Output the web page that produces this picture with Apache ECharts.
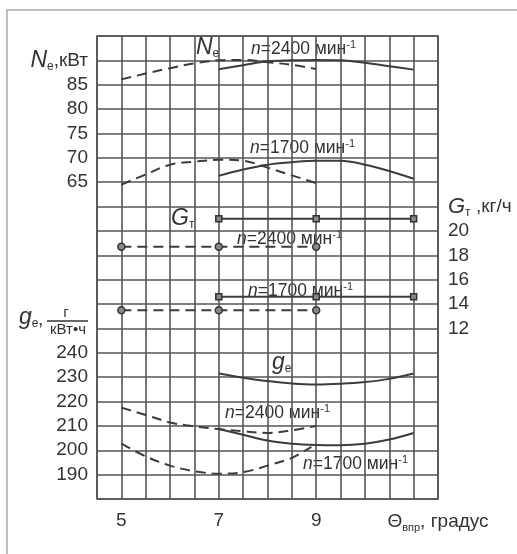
<!DOCTYPE html>
<html><head><meta charset="utf-8">
<script src="https://cdn.jsdelivr.net/npm/echarts@6/dist/echarts.min.js"></script>
<style>html,body{margin:0;padding:0;background:#fff;}#c{width:517px;height:554px;}</style>
</head><body><div id="c"></div>
<script>
// Angle of injection advance (degrees)
const xDashed = [5, 5.5, 6, 6.5, 7, 7.5, 8, 8.5, 9];
const xSolid = [7, 7.5, 8, 8.5, 9, 9.5, 10, 10.5, 11];
const xGe1700Dashed = [5, 5.5, 6, 6.5, 7, 7.5, 8, 8.5, 8.9];
// Ne, kW
const ne2400Dashed = [86.1, 87.3, 88.4, 89.4, 90.0, 90.1, 89.6, 89.1, 88.2];
const ne2400Solid = [88.2, 89.0, 89.8, 90.0, 90.1, 90.0, 89.5, 88.8, 88.1];
const ne1700Dashed = [64.5, 66.6, 68.6, 69.2, 69.6, 69.4, 68.0, 66.4, 64.8];
const ne1700Solid = [66.3, 67.6, 68.6, 69.1, 69.4, 69.4, 68.6, 67.3, 65.7];
// ge, g/kWh
const ge2400Dashed = [217.5, 214.5, 211.4, 209.8, 208.7, 207.8, 207.1, 208.2, 210.0];
const ge2400Solid = [231.5, 229.8, 228.4, 227.4, 227.0, 227.3, 228.0, 229.3, 231.5];
const ge1700Dashed = [202.7, 197.5, 193.7, 191.4, 190.4, 191.0, 193.7, 196.9, 201.4];
const ge1700Solid = [208.7, 206.4, 204.0, 202.7, 202.2, 202.1, 202.7, 204.4, 207.1];
// GT, kg/h
const xGDashed = [5, 7, 9];
const xGSolid = [7, 9, 11];
const gt2400Dashed = [18.7, 18.7, 18.7];
const gt2400Solid = [21.0, 21.0, 21.0];
const gt1700Dashed = [13.5, 13.5, 13.5];
const gt1700Solid = [14.6, 14.6, 14.6];
// tick labels
const xTicks = [5, 7, 9];
const neTicks = [65, 70, 75, 80, 85];
const geTicks = [190, 200, 210, 220, 230, 240];
const gtTicks = [12, 14, 16, 18, 20];

const FONT = '"Liberation Sans", Arial, sans-serif';
const TXT = '#333';
const LINE = '#3c3c3c';
const zip = (xs, ys) => xs.map((x, i) => [x, ys[i]]);

function curve(xs, ys, axis, dashed) {
  return {
    type: 'line', yAxisIndex: axis, data: zip(xs, ys), smooth: 0.35,
    showSymbol: false, symbol: 'none', silent: true,
    lineStyle: { color: LINE, width: 2, type: dashed ? [10, 6] : 'solid' }
  };
}
function gline(xs, ys, dashed) {
  return {
    type: 'line', yAxisIndex: 2, data: zip(xs, ys), silent: true,
    symbol: dashed ? 'circle' : 'rect', symbolSize: dashed ? 7 : 6, showSymbol: true,
    itemStyle: { color: '#888', borderColor: '#333', borderWidth: 1.5 },
    lineStyle: { color: LINE, width: 2, type: dashed ? [10, 6] : 'solid' }
  };
}

const nLabelRich = {
  i: { fontFamily: FONT, fontSize: 17.5, fontStyle: 'italic', fill: TXT, lineHeight: 20 },
  t: { fontFamily: FONT, fontSize: 17.5, fill: TXT, lineHeight: 20 },
  s: { fontFamily: FONT, fontSize: 11, fill: TXT, verticalAlign: 'top', lineHeight: 20 }
};
function nText(n, x, y) {
  return {
    type: 'text', x: x, y: y, silent: true,
    style: { text: '{i|n}{t|=' + n + ' мин}{s|-1}', rich: nLabelRich, fill: TXT,
      align: 'left', verticalAlign: 'middle' }
  };
}
function symText(main, sub, x, y) {
  return {
    type: 'text', x: x, y: y, silent: true,
    style: { text: '{m|' + main + '}{s|' + sub + '}', fill: TXT, align: 'left', verticalAlign: 'middle',
      rich: {
        m: { fontFamily: FONT, fontSize: 23, fontStyle: 'italic', fill: TXT, lineHeight: 24 },
        s: { fontFamily: FONT, fontSize: 12, fill: TXT, verticalAlign: 'bottom', lineHeight: 12 }
      } }
  };
}

const chart = echarts.init(document.getElementById('c'), null, { renderer: 'canvas' });
chart.setOption({
  animation: false,
  backgroundColor: '#ffffff',
  grid: { left: 97, top: 36, width: 341, height: 463, show: true, borderColor: '#555', borderWidth: 1.6, backgroundColor: 'transparent' },
  xAxis: {
    type: 'value', min: 4.5, max: 11.5, interval: 0.5,
    axisLine: { show: false }, axisTick: { show: false },
    splitLine: { show: true, lineStyle: { color: '#555', width: 1.6 } },
    axisLabel: {
      margin: 12, color: TXT, fontFamily: FONT, fontSize: 19,
      formatter: v => xTicks.includes(v) ? String(v) : (v === 11.5 ? '{a|Θ}{b|впр}{a|, градус}' : ''),
      rich: {
        a: { fontFamily: FONT, fontSize: 19, color: TXT, lineHeight: 22 },
        b: { fontFamily: FONT, fontSize: 11, color: TXT, verticalAlign: 'bottom', lineHeight: 12 }
      }
    }
  },
  yAxis: [
    { type: 'value', min: 0, max: 95, interval: 5, position: 'left',
      axisLine: { show: false }, axisTick: { show: false }, splitLine: { show: false },
      axisLabel: { margin: 9, color: TXT, fontFamily: FONT, fontSize: 19,
        formatter: v => neTicks.includes(v) ? String(v) : (v === 90 ? '{i|N}{s|e}{n|,кВт}' : ''),
        rich: {
          i: { fontFamily: FONT, fontSize: 23, fontStyle: 'italic', color: TXT, lineHeight: 24 },
          s: { fontFamily: FONT, fontSize: 12, color: TXT, verticalAlign: 'bottom', lineHeight: 12 },
          n: { fontFamily: FONT, fontSize: 19, color: TXT, lineHeight: 24 }
        } } },
    { type: 'value', min: 180, max: 370, interval: 10, position: 'left',
      axisLine: { show: false }, axisTick: { show: false },
      splitLine: { show: true, lineStyle: { color: '#555', width: 1.6 } },
      axisLabel: { margin: 9, color: TXT, fontFamily: FONT, fontSize: 19,
        formatter: v => geTicks.includes(v) ? String(v) : '' } },
    { type: 'value', min: -2, max: 36, interval: 2, position: 'right',
      axisLine: { show: false }, axisTick: { show: false }, splitLine: { show: false },
      axisLabel: { margin: 10, color: TXT, fontFamily: FONT, fontSize: 19,
        formatter: v => gtTicks.includes(v) ? String(v) : (v === 22 ? '{i|G}{s|т}{n| ,кг/ч}' : ''),
        rich: {
          i: { fontFamily: FONT, fontSize: 22, fontStyle: 'italic', color: TXT, lineHeight: 24 },
          s: { fontFamily: FONT, fontSize: 12, color: TXT, verticalAlign: 'bottom', lineHeight: 12 },
          n: { fontFamily: FONT, fontSize: 19, color: TXT, lineHeight: 24 }
        } } }
  ],
  series: [
    curve(xDashed, ne2400Dashed, 0, true),
    curve(xSolid, ne2400Solid, 0, false),
    curve(xDashed, ne1700Dashed, 0, true),
    curve(xSolid, ne1700Solid, 0, false),
    curve(xDashed, ge2400Dashed, 1, true),
    curve(xSolid, ge2400Solid, 1, false),
    curve(xGe1700Dashed, ge1700Dashed, 1, true),
    curve(xSolid, ge1700Solid, 1, false),
    gline(xGDashed, gt2400Dashed, true),
    gline(xGSolid, gt2400Solid, false),
    gline(xGDashed, gt1700Dashed, true),
    gline(xGSolid, gt1700Solid, false)
  ],
  graphic: [
    { type: 'rect', silent: true, z: -10, shape: { x: 7, y: 10, width: 620, height: 620 },
      style: { fill: 'none', stroke: '#aaa', lineWidth: 1.5 } },
    symText('N', 'e', 196, 48),
    nText(2400, 251, 49),
    nText(1700, 250, 148),
    symText('G', 'т', 171, 219),
    nText(2400, 237, 239),
    nText(1700, 248, 291),
    symText('g', 'e', 272, 363),
    nText(2400, 225, 413),
    nText(1700, 303, 464),
    // ge axis title with fraction г / (кВт·ч)
    symText('g', 'e', 19, 318),
    { type: 'text', x: 38, y: 320, silent: true,
      style: { text: ',', fill: TXT, font: '19px ' + FONT, align: 'left', verticalAlign: 'middle' } },
    { type: 'text', x: 66, y: 313, silent: true,
      style: { text: 'г', fill: TXT, font: '15px ' + FONT, align: 'center', verticalAlign: 'middle' } },
    { type: 'line', silent: true, shape: { x1: 47, y1: 321, x2: 88, y2: 321 },
      style: { stroke: TXT, lineWidth: 1.4 } },
    { type: 'text', x: 68, y: 330, silent: true,
      style: { text: 'кВт•ч', fill: TXT, font: '15px ' + FONT, align: 'center', verticalAlign: 'middle' } }
  ]
});
</script></body></html>
